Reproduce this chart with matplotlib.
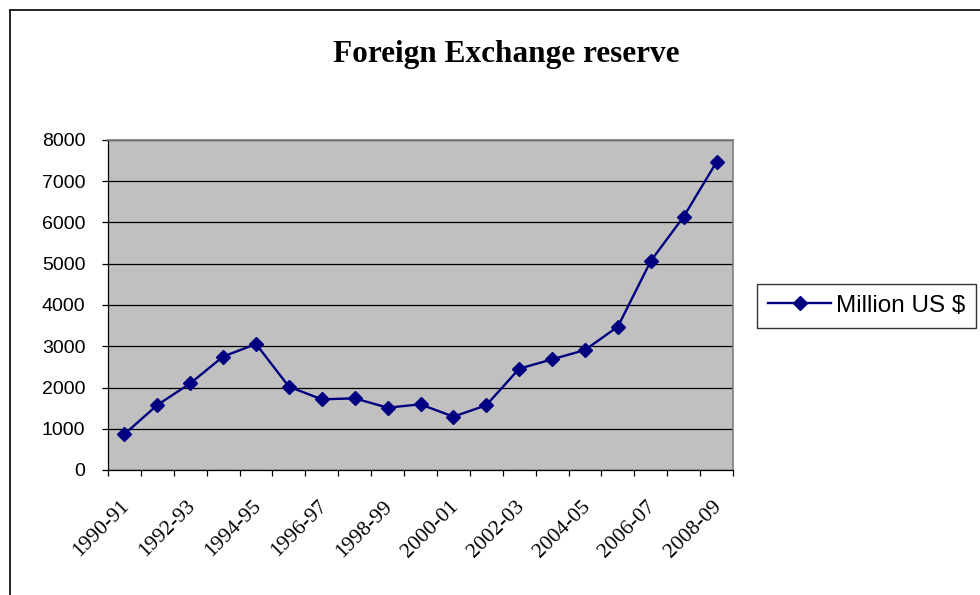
import matplotlib
matplotlib.use("Agg")
import matplotlib.pyplot as plt
from matplotlib.lines import Line2D
from matplotlib.transforms import blended_transform_factory, offset_copy

# data
years = ["1990-91", "1991-92", "1992-93", "1993-94", "1994-95", "1995-96",
         "1996-97", "1997-98", "1998-99", "1999-00", "2000-01", "2001-02",
         "2002-03", "2003-04", "2004-05", "2005-06", "2006-07", "2007-08",
         "2008-09"]
reserve = [870, 1576, 2100, 2750, 3055, 2020, 1713, 1737, 1511, 1592,
           1293, 1570, 2456, 2683, 2909, 3475, 5067, 6141, 7467]
y_ticks = [0, 1000, 2000, 3000, 4000, 5000, 6000, 7000, 8000]

navy = "#000080"
sans = ["Liberation Sans", "DejaVu Sans"]
serif = ["Liberation Serif", "DejaVu Serif"]

fig = plt.figure(figsize=(9.8, 5.95), dpi=100)
ax = fig.add_axes([108 / 980, 1 - 470 / 595, 625 / 980, 330 / 595])
ax.set_facecolor("#C0C0C0")

x = list(range(len(years)))
line, = ax.plot(x, reserve, color=navy, lw=1.7, marker="D", markersize=7,
                markerfacecolor=navy, markeredgecolor=navy, zorder=3,
                label="Million US $")

ax.set_xlim(-0.5, len(years) - 0.5)
ax.set_ylim(0, 8000)
ax.set_yticks(y_ticks)
ax.set_yticklabels([str(v) for v in y_ticks], family=sans, fontsize=14)
ax.yaxis.grid(True, color="black", lw=0.9)
ax.set_axisbelow(True)

# category boundaries get the tick marks, labels go on every other category
ax.set_xticks([i - 0.5 for i in range(len(years) + 1)])
ax.set_xticklabels([])
ax.tick_params(axis="both", direction="out", length=4.3, width=0.9,
               color="black")
ax.tick_params(axis="y", pad=12)

trans = blended_transform_factory(ax.transData, ax.transAxes)
trans = offset_copy(trans, fig=fig, x=9, y=-27, units="dots")
for i in range(0, len(years), 2):
    ax.text(i, 0, years[i], transform=trans, rotation=45, ha="right",
            va="top", family=serif, fontsize=15.5)

for side in ["top", "right"]:
    ax.spines[side].set_color("#808080")
    ax.spines[side].set_linewidth(1.2)
for side in ["left", "bottom"]:
    ax.spines[side].set_color("black")
    ax.spines[side].set_linewidth(0.9)

fig.text(506 / 980, 1 - 62 / 595, "Foreign Exchange reserve", ha="center",
         va="baseline", family=serif, fontweight="bold", fontsize=22.5)

leg = fig.legend(handles=[line], loc="center left",
                 bbox_to_anchor=(757 / 980, 1 - 306 / 595),
                 prop={"family": sans, "size": 17.5}, frameon=True,
                 fancybox=False, edgecolor="black", handlelength=2.6,
                 handletextpad=0.2, borderpad=0.45, borderaxespad=0)
leg.get_frame().set_linewidth(1.0)

# outer chart border (only left and top visible in the crop)
fig.add_artist(Line2D([10 / 980, 10 / 980], [0, 1 - 10 / 595],
                      transform=fig.transFigure, color="black", lw=1.2))
fig.add_artist(Line2D([10 / 980, 1], [1 - 10 / 595, 1 - 10 / 595],
                      transform=fig.transFigure, color="black", lw=1.2))

fig.savefig("out.png", dpi=100)
